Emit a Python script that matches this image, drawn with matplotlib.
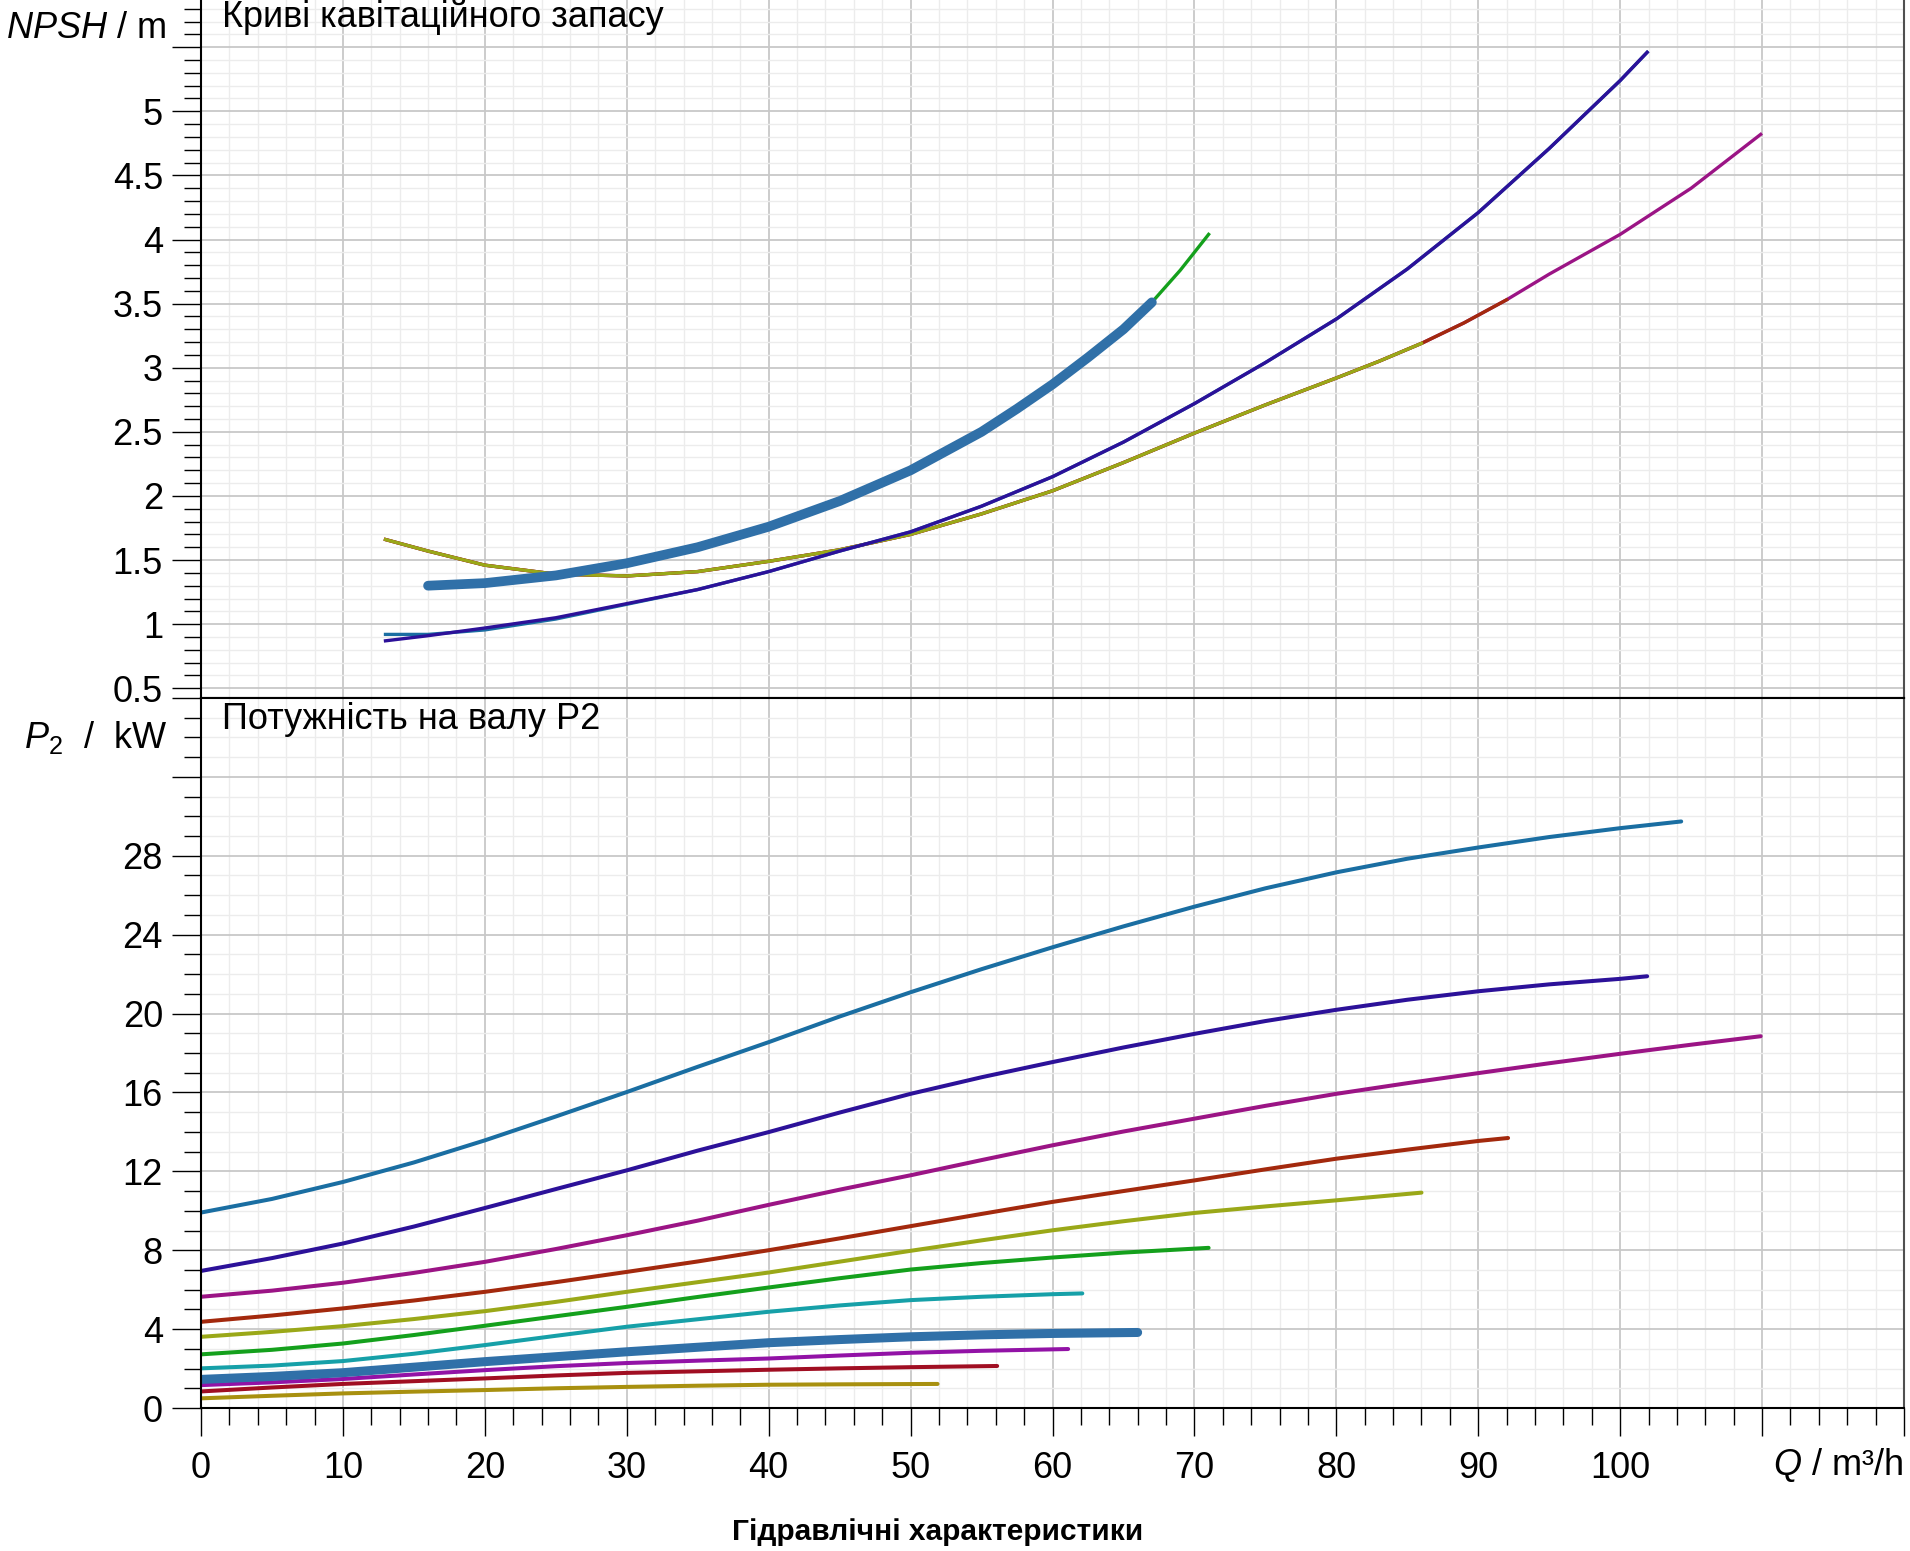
import matplotlib
matplotlib.use('Agg')
import matplotlib.pyplot as plt
from matplotlib.ticker import MultipleLocator, FuncFormatter

plt.rcParams['font.family'] = ['Liberation Sans', 'DejaVu Sans']
plt.rcParams['mathtext.fontset'] = 'custom'
plt.rcParams['mathtext.rm'] = 'Liberation Sans'
plt.rcParams['mathtext.it'] = 'Liberation Sans:italic'

# --- NPSH curves (m) ---
npsh_q_shared = [13, 16, 20, 25, 30, 35, 40, 45, 50, 55, 60, 65, 70, 75, 80, 83, 86, 89, 92, 95, 100, 105, 109.9]
npsh_shared = [1.66, 1.57, 1.46, 1.39, 1.376, 1.41, 1.49, 1.58, 1.70, 1.86, 2.04, 2.26, 2.49, 2.71, 2.92, 3.05, 3.19,
               3.35, 3.53, 3.73, 4.04, 4.40, 4.82]
npsh_q_ind = [13, 16, 20, 25, 30, 35, 40, 45, 50, 55, 60, 65, 70, 75, 80, 85, 90, 95, 100, 101.9]
npsh_ind = [0.87, 0.91, 0.97, 1.05, 1.16, 1.27, 1.41, 1.57, 1.72, 1.92, 2.15, 2.42, 2.72, 3.04, 3.38, 3.77, 4.21,
            4.71, 5.24, 5.46]
npsh_teal = [0.92, 0.92, 0.955, 1.04, 1.155, 1.27, 1.41, 1.57, 1.72, 1.92, 2.15, 2.42, 2.72, 3.04, 3.38, 3.77, 4.21,
             4.71, 5.24, 5.46]
npsh_q_sel = [16, 20, 25, 30, 35, 40, 45, 50, 55, 57.5, 60, 62.5, 65, 67, 69, 71]
npsh_sel = [1.30, 1.32, 1.38, 1.475, 1.60, 1.76, 1.96, 2.20, 2.50, 2.68, 2.87, 3.08, 3.30, 3.51, 3.76, 4.04]

# --- shaft power P2 (kW) ---
q_teal = [0, 5, 10, 15, 20, 25, 30, 35, 40, 45, 50, 55, 60, 65, 70, 75, 80, 85, 90, 95, 100, 104.3]
p_teal = [9.91, 10.6, 11.46, 12.45, 13.57, 14.78, 16.02, 17.3, 18.55, 19.85, 21.08, 22.25, 23.36, 24.42, 25.42,
          26.35, 27.16, 27.85, 28.42, 28.95, 29.40, 29.74]
q_ind = [0, 5, 10, 15, 20, 25, 30, 35, 40, 45, 50, 55, 60, 65, 70, 75, 80, 85, 90, 95, 100, 101.9]
p_ind = [6.95, 7.6, 8.34, 9.2, 10.14, 11.1, 12.05, 13.05, 13.99, 14.98, 15.93, 16.77, 17.54, 18.28, 18.97, 19.62,
         20.19, 20.7, 21.13, 21.48, 21.76, 21.89]
q_mag = [0, 5, 10, 15, 20, 25, 30, 35, 40, 45, 50, 55, 60, 65, 70, 75, 80, 85, 90, 95, 100, 105, 109.9]
p_mag = [5.64, 5.95, 6.35, 6.85, 7.41, 8.06, 8.76, 9.5, 10.3, 11.07, 11.80, 12.57, 13.32, 14.02, 14.67, 15.32, 15.93,
         16.47, 16.98, 17.48, 17.96, 18.42, 18.85]
q_rust = [0, 5, 10, 15, 20, 25, 30, 35, 40, 45, 50, 55, 60, 65, 70, 75, 80, 85, 90, 92.1]
p_rust = [4.37, 4.69, 5.05, 5.45, 5.89, 6.38, 6.90, 7.43, 8.0, 8.6, 9.22, 9.84, 10.45, 11.0, 11.54, 12.1, 12.64, 13.1,
          13.54, 13.69]
q_olive = [0, 5, 10, 15, 20, 25, 30, 35, 40, 45, 50, 55, 60, 65, 70, 75, 80, 86]
p_olive = [3.61, 3.86, 4.15, 4.51, 4.91, 5.38, 5.89, 6.38, 6.87, 7.42, 7.97, 8.5, 9.01, 9.47, 9.89, 10.22, 10.53, 10.92]
q_green = [0, 5, 10, 15, 20, 25, 30, 35, 40, 45, 50, 55, 60, 65, 70, 71]
p_green = [2.72, 2.95, 3.27, 3.7, 4.17, 4.65, 5.13, 5.63, 6.11, 6.58, 7.02, 7.35, 7.63, 7.88, 8.08, 8.12]
q_cyan = [0, 5, 10, 15, 20, 25, 30, 35, 40, 45, 50, 55, 60, 62.1]
p_cyan = [2.01, 2.15, 2.38, 2.75, 3.19, 3.66, 4.12, 4.5, 4.88, 5.2, 5.47, 5.64, 5.77, 5.81]
q_sel = [0, 5, 10, 15, 20, 25, 30, 35, 40, 45, 50, 55, 60, 66]
p_sel = [1.45, 1.6, 1.79, 2.07, 2.35, 2.6, 2.85, 3.08, 3.31, 3.47, 3.61, 3.71, 3.78, 3.83]
q_purp = [0, 5, 10, 15, 20, 25, 30, 35, 40, 45, 50, 55, 61.1]
p_purp = [1.16, 1.3, 1.47, 1.7, 1.92, 2.12, 2.28, 2.4, 2.51, 2.66, 2.8, 2.9, 2.99]
q_dred = [0, 5, 10, 15, 20, 25, 30, 35, 40, 45, 50, 56.1]
p_dred = [0.84, 1.04, 1.22, 1.36, 1.50, 1.65, 1.78, 1.86, 1.94, 2.01, 2.07, 2.13]
q_gold = [0, 5, 10, 15, 20, 25, 30, 35, 40, 45, 51.9]
p_gold = [0.49, 0.62, 0.74, 0.83, 0.91, 1.0, 1.07, 1.13, 1.18, 1.2, 1.22]

c_teal = '#1a6ea2'
c_ind = '#2c1199'
c_mag = '#9b1485'
c_rust = '#a3290d'
c_olive = '#9aa818'
c_green = '#14a01c'
c_cyan = '#16a0a8'
c_sel = '#3070a8'
c_purp = '#9212a6'
c_dred = '#a00e22'
c_gold = '#a8900f'

W, H = 1910, 1551
fig = plt.figure(figsize=(W / 100, H / 100), dpi=100)
left = 201 / W
width = (1904 - 201) / W
ax1 = fig.add_axes([left, 1 - 698 / H, width, (698 + 16.9) / H])
ax2 = fig.add_axes([left, 1 - 1408 / H, width, (1408 - 698) / H])


def style(ax):
    ax.set_xlim(0, 120)
    ax.xaxis.set_major_locator(MultipleLocator(10))
    ax.xaxis.set_minor_locator(MultipleLocator(2))
    ax.grid(which='minor', color='#ececec', lw=1.0)
    ax.grid(which='major', color='#c8c8c8', lw=1.3)
    ax.set_axisbelow(True)
    for s in ['left', 'bottom', 'top']:
        ax.spines[s].set_color('black')
        ax.spines[s].set_linewidth(1.5)
    ax.spines['right'].set_color('#505050')
    ax.spines['right'].set_linewidth(1.5)
    ax.tick_params(axis='y', which='major', length=20.9, width=1.0, pad=6.5, labelsize=26, direction='out')
    ax.tick_params(axis='y', which='minor', length=12.2, width=1.0, direction='out')


style(ax1)
style(ax2)

# NPSH
ax1.set_ylim(0.424, 6.0)
ax1.yaxis.set_major_locator(MultipleLocator(0.5))
ax1.yaxis.set_minor_locator(MultipleLocator(0.1))
ax1.yaxis.set_major_formatter(FuncFormatter(
    lambda v, p: '' if abs(v - 5.5) < 1e-6 else ('%d' % round(v) if abs(v - round(v)) < 1e-6 else '%.1f' % v)))
ax1.tick_params(axis='x', which='both', length=0, labelbottom=False)

q_sh = npsh_q_shared
ax1.plot(q_sh, npsh_shared, color=c_mag, lw=2.4)
ax1.plot([q for q in q_sh if q <= 92], [v for q, v in zip(q_sh, npsh_shared) if q <= 92], color=c_rust, lw=2.4)
ax1.plot([q for q in q_sh if q <= 86], [v for q, v in zip(q_sh, npsh_shared) if q <= 86], color=c_olive, lw=2.4)
ax1.plot(npsh_q_ind, npsh_teal, color=c_teal, lw=2.4)
ax1.plot(npsh_q_ind, npsh_ind, color=c_ind, lw=2.4)
ax1.plot(npsh_q_sel, npsh_sel, color=c_green, lw=2.4)
ax1.plot([q for q in npsh_q_sel if q <= 67], [v for q, v in zip(npsh_q_sel, npsh_sel) if q <= 67],
         color=c_sel, lw=7.0, solid_capstyle='round')

# P2
ax2.set_ylim(0, 36)
ax2.yaxis.set_major_locator(MultipleLocator(4))
ax2.yaxis.set_minor_locator(MultipleLocator(1))
ax2.yaxis.set_major_formatter(FuncFormatter(lambda v, p: '' if v > 30 else '%d' % round(v)))
ax2.xaxis.set_major_formatter(FuncFormatter(lambda v, p: '' if v > 105 else '%d' % round(v)))
ax2.tick_params(axis='x', which='major', length=20.2, width=1.0, pad=11, labelsize=26, direction='out')
ax2.tick_params(axis='x', which='minor', length=12.2, width=1.0, direction='out')

for q, p, c in [(q_teal, p_teal, c_teal), (q_ind, p_ind, c_ind), (q_mag, p_mag, c_mag),
                (q_rust, p_rust, c_rust), (q_olive, p_olive, c_olive), (q_green, p_green, c_green),
                (q_cyan, p_cyan, c_cyan), (q_purp, p_purp, c_purp), (q_dred, p_dred, c_dred),
                (q_gold, p_gold, c_gold)]:
    ax2.plot(q, p, color=c, lw=2.9, solid_capstyle='round')
ax2.plot(q_sel, p_sel, color=c_sel, lw=6.5, solid_capstyle='round')

# texts
fig.text(6 / W, 1 - 29 / H, '$NPSH$ / m', ha='left', va='center', fontsize=26)
fig.text(222 / W, 1 - 17 / H, 'Криві кавітаційного запасу', ha='left', va='center', fontsize=26)
fig.text(24 / W, 1 - 737 / H, '$P_2$  /  kW', ha='left', va='center', fontsize=26)
fig.text(222 / W, 1 - 720 / H, 'Потужність на валу P2', ha='left', va='center', fontsize=26)
fig.text(1903 / W, 1 - 1465 / H, '$Q$ / m³/h', ha='right', va='center', fontsize=26)
fig.text(938 / W, 1 - 1532 / H, 'Гідравлічні характеристики', ha='center', va='center',
         fontsize=21.5, fontweight='bold')

fig.savefig('out.png', dpi=100, facecolor='white')
